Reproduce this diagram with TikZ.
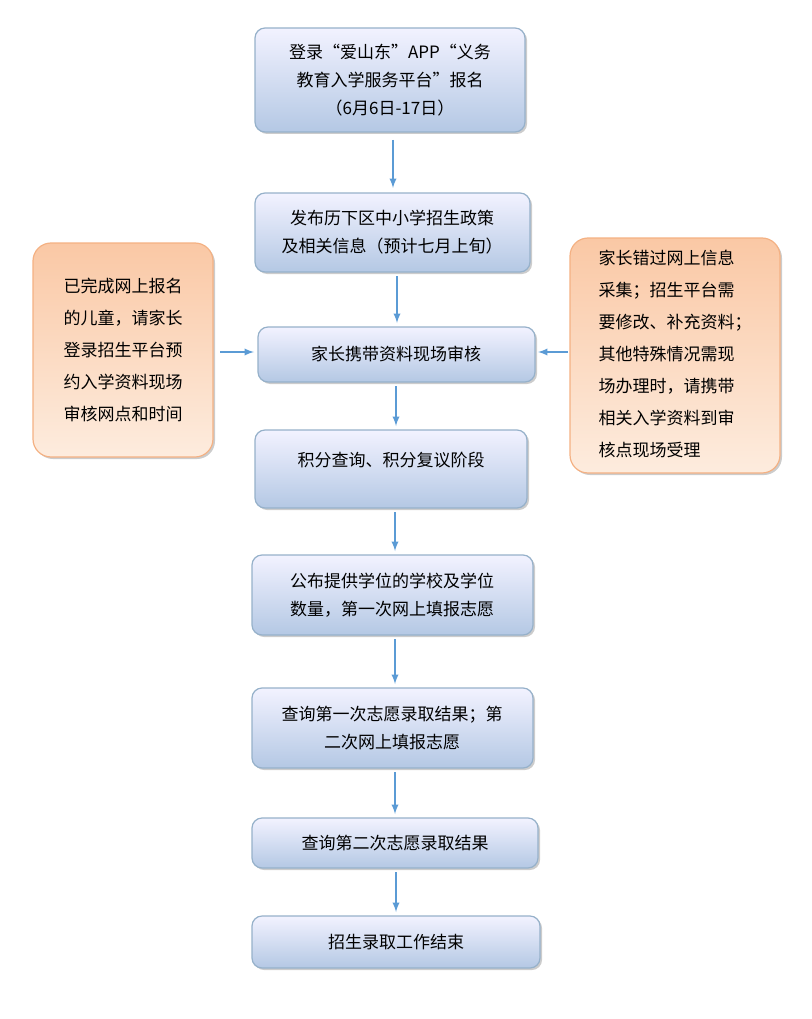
\documentclass[tikz,border=0pt]{standalone}
\usepackage{fontspec}
\setmainfont{Noto Sans CJK SC}
\usetikzlibrary{shadows}
\definecolor{bl}{HTML}{5B9BD5}
\begin{document}
\begin{tikzpicture}[x=1pt,y=-1pt,
 mbox/.style={draw=bl!60!gray!70,line width=1.2pt,rounded corners=10pt,top color=blue!5!white,bottom color={rgb,255:red,180;green,200;blue,228},drop shadow={shadow xshift=2pt,shadow yshift=-2pt,opacity=0.4}},
 obox/.style={draw={rgb,255:red,244;green,177;blue,131},line width=1.2pt,rounded corners=18pt,top color={rgb,255:red,250;green,200;blue,165},bottom color={rgb,255:red,253;green,236;blue,222},drop shadow={shadow xshift=2pt,shadow yshift=-2pt,opacity=0.4}},
 mt/.style={align=center,font=\fontsize{17}{28}\selectfont},
 ot/.style={align=left,font=\fontsize{17}{32}\selectfont},
 arr/.style={-latex,draw=bl,line width=2.2pt}]
\useasboundingbox (0,0) rectangle (811,1019);
\path[mbox] (255,28) rectangle (525,132); \node[mt] (b1) at (390,80) {登录“爱山东”APP“义务\\教育入学服务平台”报名\\（6月6日-17日）};
\path[mbox] (255,193) rectangle (530,272); \node[mt] (b2) at (392,232) {发布历下区中小学招生政策\\及相关信息（预计七月上旬）};
\path[mbox] (258,327) rectangle (535,382); \node[mt] (b3) at (396,354) {家长携带资料现场审核};
\path[mbox] (255,430) rectangle (527,508); \node[mt] (b4) at (391,460) {积分查询、积分复议阶段};
\path[mbox] (252,555) rectangle (533,635); \node[mt] (b5) at (392,595) {公布提供学位的学校及学位\\数量，第一次网上填报志愿};
\path[mbox] (252,688) rectangle (533,768); \node[mt] (b6) at (392,728) {查询第一次志愿录取结果；第\\二次网上填报志愿};
\path[mbox] (252,818) rectangle (538,868); \node[mt] (b7) at (395,843) {查询第二次志愿录取结果};
\path[mbox] (252,916) rectangle (540,968); \node[mt] (b8) at (396,942) {招生录取工作结束};
\path[obox] (33,243) rectangle (213,457); \node[ot] (l) at (123,350) {已完成网上报名\\的儿童，请家长\\登录招生平台预\\约入学资料现场\\审核网点和时间};
\path[obox] (570,238) rectangle (780,473); \node[ot] (r) at (675,354) {家长错过网上信息\\采集；招生平台需\\要修改、补充资料；\\其他特殊情况需现\\场办理时，请携带\\相关入学资料到审\\核点现场受理};
\coordinate (a1) at (393,140); \coordinate (a1e) at (393,188);
\coordinate (a2) at (397,276); \coordinate (a2e) at (397,323);
\coordinate (a3) at (396,386); \coordinate (a3e) at (396,426);
\coordinate (a4) at (395,512); \coordinate (a4e) at (395,551);
\coordinate (a5) at (395,639); \coordinate (a5e) at (395,684);
\coordinate (a6) at (395,772); \coordinate (a6e) at (395,814);
\coordinate (a7) at (396,872); \coordinate (a7e) at (396,912);
\coordinate (al) at (220,352); \coordinate (ale) at (254,352);
\coordinate (ar) at (568,352); \coordinate (are) at (538,352);
\foreach \s/\e in {a1/a1e,a2/a2e,a3/a3e,a4/a4e,a5/a5e,a6/a6e,a7/a7e,al/ale,ar/are} \draw[arr] (\s) -- (\e);
\end{tikzpicture}
\end{document}
